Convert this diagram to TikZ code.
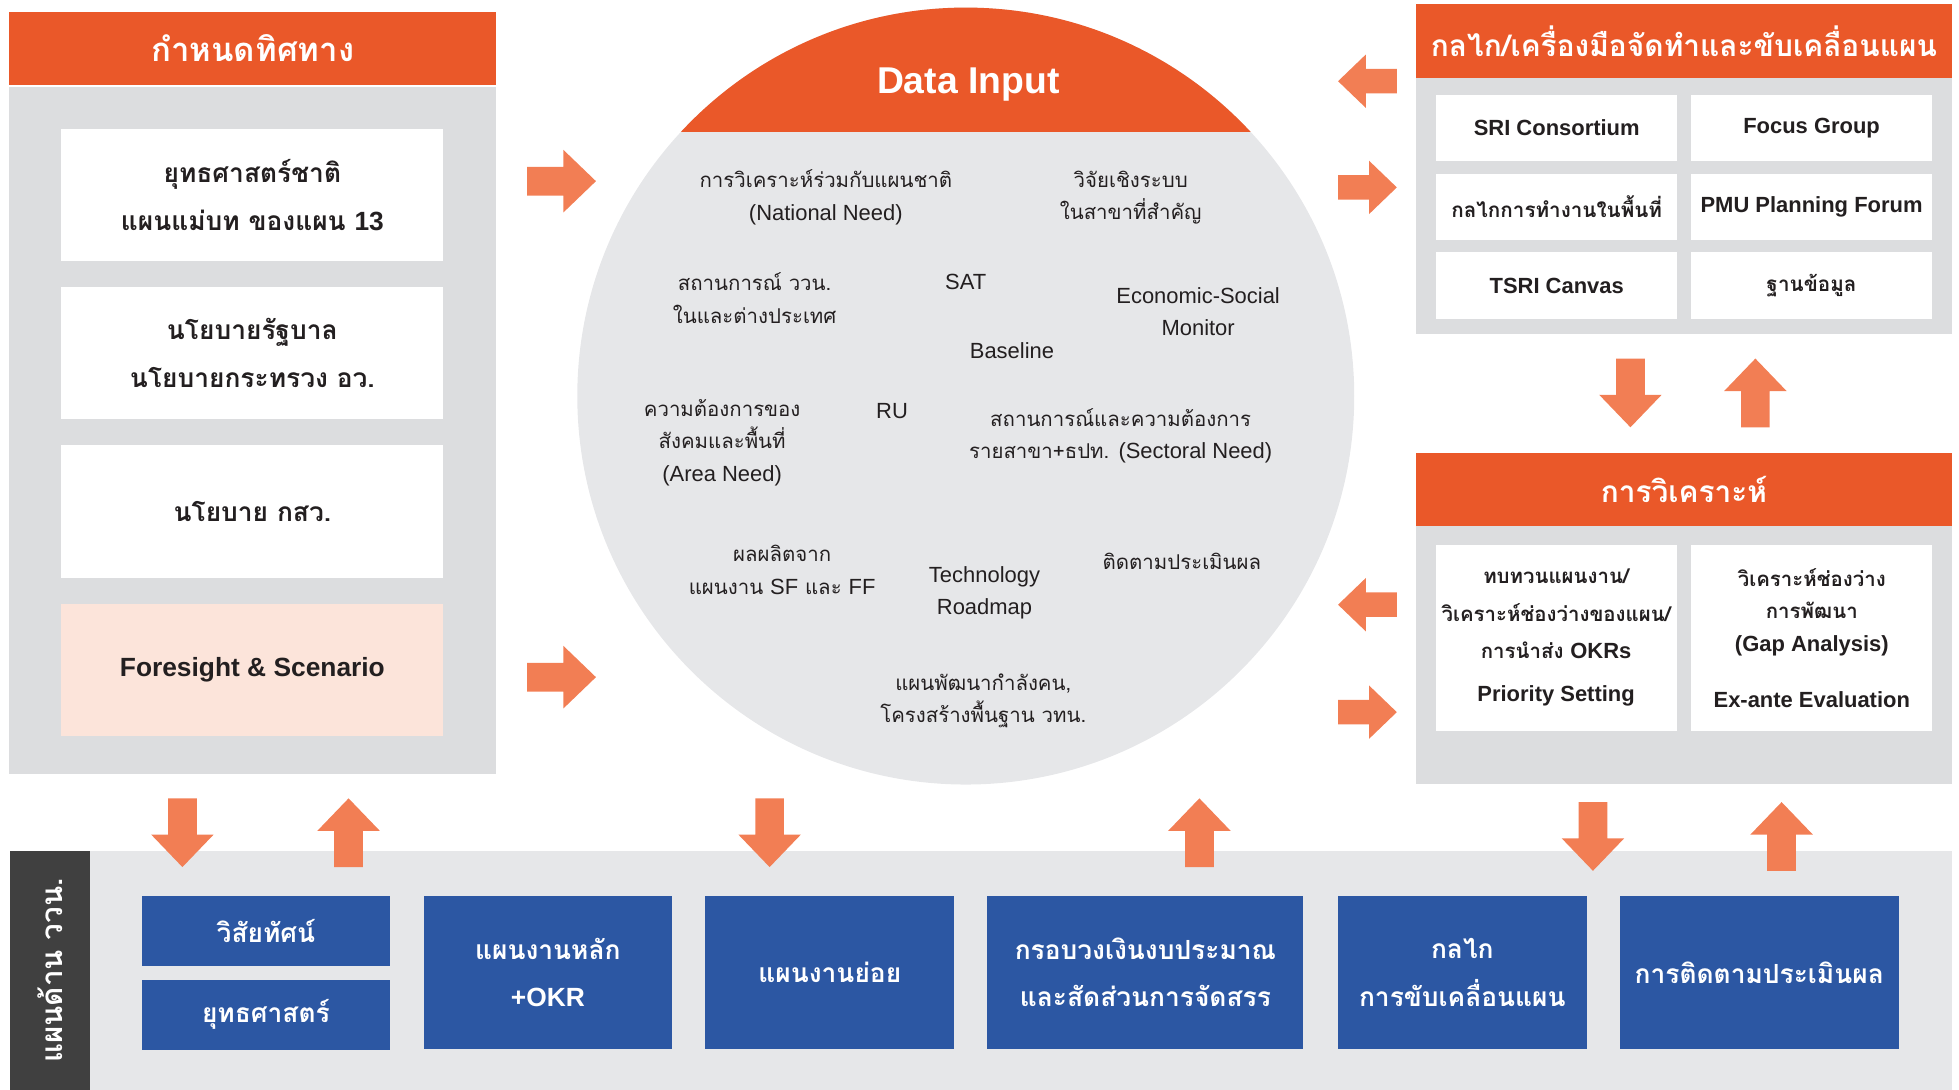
\documentclass[tikz,border=0pt]{standalone}
\usepackage{fontspec}
\setmainfont{Liberation Sans}
\newfontfamily\thaifont[Script=Thai]{Loma}
\usepackage{tikz}
\usetikzlibrary{positioning}
\usetikzlibrary{matrix}

\definecolor{headorange}{RGB}{234,88,41}
\definecolor{arroworange}{RGB}{242,126,84}
\definecolor{panelgray}{RGB}{220,221,223}
\definecolor{circlegray}{RGB}{230,231,233}
\definecolor{peach}{RGB}{252,228,218}
\definecolor{planblue}{RGB}{44,87,163}
\definecolor{bardark}{RGB}{64,64,64}
\definecolor{inkdark}{RGB}{35,31,32}

\newcommand\lat{\rmfamily\fontsize{10}{14.8}\selectfont}
\newcommand\thaicell{\thaifont\fontsize{9.4}{12}\selectfont}

\begin{document}
\begin{tikzpicture}[x=0.02cm, y=0.02cm]

 \tikzset{panelhead/.style={
 		fill=headorange, text=white, anchor=north west, inner sep=0pt,
 		minimum width=#1, minimum height=1.18cm,
 		font=\thaifont\bfseries\fontsize{13.6}{16}\selectfont
 	},
 	panelbody/.style={
 		fill=panelgray, anchor=north west, inner sep=0pt, minimum width=#1
 	},
 	whitebox/.style={
 		fill=white, text=inkdark, align=center, inner sep=0pt,
 		minimum width=6.12cm, minimum height=2.12cm,
 		font=\thaifont\bfseries\fontsize{12}{22}\selectfont
 	},
 	circletext/.style={
 		text=inkdark, align=center, inner sep=0pt,
 		font=\thaifont\fontsize{9.3}{14.8}\selectfont
 	},
 	tool grid/.style={
 		matrix of nodes,
 		column sep=0.22cm, row sep=0.2cm,
 		nodes={fill=white, text=inkdark,
 			minimum width=3.86cm, minimum height=1.06cm,
 			anchor=center, inner sep=0pt,
 			font=\bfseries\fontsize{10}{12}\selectfont
 		},
 	},
 	anacell/.style={
 		fill=white, text=inkdark, align=center, inner sep=0pt,
 		minimum width=3.86cm, minimum height=2.98cm,
 		font=\thaifont\bfseries\fontsize{9.3}{17}\selectfont
 	},
 	planbox/.style={
 		fill=planblue, text=white, align=center, inner sep=0pt,
 		minimum width=3.98cm, minimum height=2.44cm,
 		font=\thaifont\bfseries\fontsize{12}{21.6}\selectfont
 	},
 	pics/blockarrow/.style={code={
 		\fill[arroworange] (-27.5,-11.5) -- (1.5,-11.5) -- (1.5,-25) -- (27.5,0)
 			-- (1.5,25) -- (1.5,11.5) -- (-27.5,11.5) -- cycle;
 	}}
 }
 \useasboundingbox (0,0) rectangle (1568,-872);

 % direction panel
 \node[panelhead=7.8cm, font=\thaifont\bfseries\fontsize{15}{18}\selectfont] (dirhead) at (7,-9) {กำหนดทิศทาง};
 \node[panelbody=7.8cm, minimum height=11cm] (dirbody) at (7,-69) {};
 \node[whitebox] (natplan) at (202,-156) {ยุทธศาสตร์ชาติ\\แผนแม่บท ของแผน {\rmfamily 13}};
 \node[whitebox, below=0.4cm of natplan] (govpolicy) {นโยบายรัฐบาล\\นโยบายกระทรวง อว.};
 \node[whitebox, below=0.4cm of govpolicy] (tsripolicy) {นโยบาย กสว.};
 \node[whitebox, fill=peach, below=0.4cm of tsripolicy] (foresight) {\rmfamily Foresight \& Scenario};

 % data input circle
 \node[circle, fill=circlegray, minimum size=12.44cm, inner sep=0pt] (datain) at (773,-317) {};
 \begin{scope}
 	\clip (datain.center) circle[radius=6.22cm];
 	\fill[headorange] (440,-106) rectangle (1100,0);
 \end{scope}
 \node[text=white, font=\bfseries\fontsize{17}{20}\selectfont] (datatitle) at (775,-68) {Data Input};
 \node[circletext] (natneed) at (661,-158) {การวิเคราะห์ร่วมกับแผนชาติ\\{\lat(National Need)}};
 \node[circletext] (sysres) at (905,-158) {วิจัยเชิงระบบ\\ในสาขาที่สำคัญ};
 \node[circletext] (stisit) at (604,-238.5) {สถานการณ์ ววน.\\ในและต่างประเทศ};
 \node[circletext, font=\lat] (sat) at (773,-226) {SAT};
 \node[circletext, font=\lat] (ecomon) at (959,-249.5) {Economic-Social\\Monitor};
 \node[circletext, font=\lat] (baseline) at (810,-281) {Baseline};
 \node[circletext] (areaneed) at (578,-354) {ความต้องการของ\\สังคมและพื้นที่\\{\lat(Area Need)}};
 \node[circletext, font=\lat] (ru) at (714,-329) {RU};
 \node[circletext] (secneed) at (897,-349) {สถานการณ์และความต้องการ\\รายสาขา+ธปท. {\lat(Sectoral Need)}};
 \node[circletext] (sfff) at (626,-456) {ผลผลิตจาก\\แผนงาน {\lat SF} และ {\lat FF}};
 \node[circletext, font=\lat] (techroad) at (788,-474.5) {Technology\\Roadmap};
 \node[circletext] (followeval) at (946,-449) {ติดตามประเมินผล};
 \node[circletext] (manpower) at (787,-561) {แผนพัฒนากำลังคน,\\โครงสร้างพื้นฐาน วทน.};

 % tools panel
 \node[panelhead=8.58cm] (toolhead) at (1133,-3) {กลไก/เครื่องมือจัดทำและขับเคลื่อนแผน};
 \node[panelbody=8.58cm, minimum height=4.1cm] (toolbody) at (1133,-62) {};
 \matrix[tool grid] (tools) at (1348,-165.5)
 {
 	SRI Consortium & Focus Group \\
 	\thaicell กลไกการทำงานในพื้นที่ & PMU Planning Forum \\
 	TSRI Canvas & \thaicell ฐานข้อมูล \\
 };

 % analysis panel
 \node[panelhead=8.58cm] (anahead) at (1133,-362) {การวิเคราะห์};
 \node[panelbody=8.58cm, minimum height=4.12cm] (anabody) at (1133,-421) {};
 \node[anacell] (review) at (1245.5,-510.5) {ทบทวนแผนงาน/\\วิเคราะห์ช่องว่างของแผน/\\การนำส่ง {\rmfamily\fontsize{10}{17}\selectfont OKRs}\\[0.1cm]{\rmfamily\fontsize{10}{17}\selectfont Priority Setting}};
 \node[anacell, right=0.22cm of review, font=\thaifont\bfseries\fontsize{9.3}{14.8}\selectfont] (gap) {วิเคราะห์ช่องว่าง\\การพัฒนา\\{\lat(Gap Analysis)}\\[0.38cm]{\lat Ex-ante Evaluation}};

 % plan band
 \node[fill=bardark, anchor=north west, inner sep=0pt, minimum width=1.28cm, minimum height=3.82cm] (planbar) at (8,-681) {};
 \node[text=white, rotate=90, font=\thaifont\bfseries\fontsize{13.5}{16}\selectfont] (planlabel) at (planbar.center) {แผนด้าน ววน.};
 \node[panelbody=29.8cm, fill=circlegray, minimum height=3.82cm] (planband) at (72,-681) {};
 \node[planbox, minimum height=1.12cm, anchor=north west] (vision) at (113,-717) {วิสัยทัศน์};
 \node[planbox, minimum height=1.12cm, below=0.2cm of vision] (strategy) {ยุทธศาสตร์};
 \node[planbox, right=0.52cm of vision.north east, anchor=north west] (mainplan) {แผนงานหลัก\\{\rmfamily +OKR}};
 \node[planbox, right=0.52cm of mainplan] (subplan) {แผนงานย่อย};
 \node[planbox, minimum width=5.06cm, right=0.52cm of subplan] (budget) {กรอบวงเงินงบประมาณ\\และสัดส่วนการจัดสรร};
 \node[planbox, right=0.54cm of budget] (drive) {กลไก\\การขับเคลื่อนแผน};
 \node[planbox, minimum width=4.46cm, right=0.52cm of drive] (followup) {การติดตามประเมินผล};

 % block arrows
 \foreach \ax/\ay/\rot in {449.5/-145/0, 449.5/-542/0, 1305/-314.5/-90, 1405/-314.5/90,
 	146/-666.5/-90, 279/-666.5/90, 616/-666.5/-90, 960/-666.5/90,
 	1275/-669.5/-90, 1426/-669.5/90}
 	\pic[rotate=\rot] at (\ax,\ay) {blockarrow};
 \foreach \ay/\rot in {-65/180, -150/0, -484/180, -570/0}
 	\pic[scale=0.855, rotate=\rot] at (1094.5,\ay) {blockarrow};
\end{tikzpicture}
\end{document}
